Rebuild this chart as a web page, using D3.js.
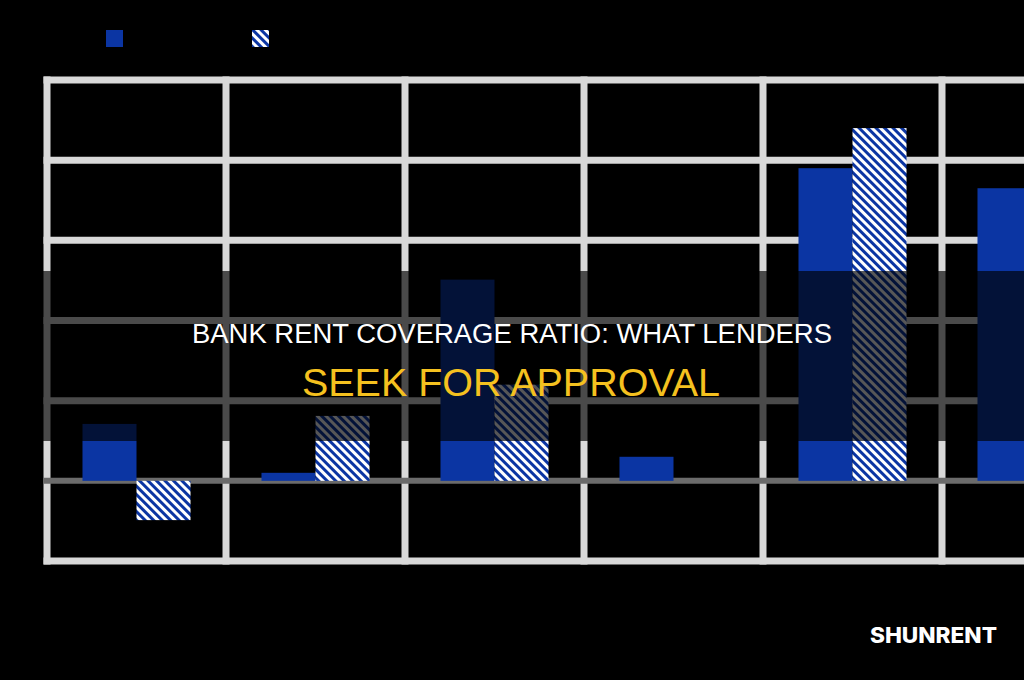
<!DOCTYPE html>
<html>
<head>
<meta charset="utf-8">
<script src="https://cdn.jsdelivr.net/npm/d3@7/dist/d3.min.js"></script>
<style>
  html, body { margin: 0; padding: 0; background: #000; }
  svg { display: block; }
</style>
</head>
<body>
<svg id="chart" width="1024" height="680"></svg>
<script>
// ---- data ----
const categories = ["A", "B", "C", "D", "E", "F"];
const seriesNames = ["Rent Coverage", "Lender Threshold"];
const seriesSolid = [0.71, 0.10, 2.51, 0.30, 3.90, 3.65];
const seriesHatched = [-0.49, 0.81, 1.20, 0.00, 4.40, 4.00];
const yTicks = [-1, 0, 1, 2, 3, 4, 5];
const titleLine1 = "BANK RENT COVERAGE RATIO: WHAT LENDERS";
const titleLine2 = "SEEK FOR APPROVAL";
const watermark = "SHUNRENT";

const BLUE = "#0b35a3";
const GRID = "#d9d9d9";
const ZERO = "#6b6b6b";

const svg = d3.select("#chart");
const W = 1024, H = 680;
svg.append("rect").attr("width", W).attr("height", H).attr("fill", "#000");

const defs = svg.append("defs");
const pat = defs.append("pattern")
  .attr("id", "hatch")
  .attr("patternUnits", "userSpaceOnUse")
  .attr("width", 6).attr("height", 6)
  .attr("patternTransform", "rotate(-45)");
pat.append("rect").attr("width", 6).attr("height", 6).attr("fill", "#ffffff");
pat.append("rect").attr("width", 3).attr("height", 6).attr("fill", BLUE);

const left = 47, step = 179;
const x = d3.scaleBand().domain(categories)
  .range([left, left + step * categories.length]).paddingInner(0).paddingOuter(0);
const x1 = d3.scaleBand().domain(seriesNames)
  .range([0, x.bandwidth()]).paddingInner(0).paddingOuter(0.657);
const y = d3.scaleLinear().domain([-1, 5]).range([561, 80]);

const g = svg.append("g");

// vertical grid lines at band edges
const edges = categories.map(c => x(c)).concat([x.range()[1]]);
g.selectAll("line.v").data(edges).join("line")
  .attr("x1", d => d).attr("x2", d => d)
  .attr("y1", y(5) - 3.5).attr("y2", y(-1) + 3.5)
  .attr("stroke", GRID).attr("stroke-width", 7);

// horizontal grid lines
g.selectAll("line.h").data(yTicks.filter(t => t !== 0)).join("line")
  .attr("x1", left - 3.5).attr("x2", x.range()[1] + 3.5)
  .attr("y1", d => y(d)).attr("y2", d => y(d))
  .attr("stroke", GRID).attr("stroke-width", 7);

// zero line
g.append("line")
  .attr("x1", left - 3.5).attr("x2", x.range()[1] + 3.5)
  .attr("y1", y(0)).attr("y2", y(0))
  .attr("stroke", ZERO).attr("stroke-width", 6);

// bars
const rows = categories.map((c, i) => ({ c, vals: [seriesSolid[i], seriesHatched[i]] }));
const grp = g.selectAll("g.grp").data(rows).join("g")
  .attr("transform", d => `translate(${x(d.c)},0)`);
grp.selectAll("rect").data(d => d.vals.map((v, j) => ({ v, s: seriesNames[j], j })))
  .join("rect")
  .attr("x", d => x1(d.s))
  .attr("width", x1.bandwidth())
  .attr("y", d => y(Math.max(0, d.v)))
  .attr("height", d => Math.abs(y(d.v) - y(0)))
  .attr("fill", d => d.j === 0 ? BLUE : "url(#hatch)");

// legend swatches
const legend = svg.append("g");
const legX = [106, 252];
seriesNames.forEach((s, j) => {
  legend.append("rect")
    .attr("x", legX[j]).attr("y", 30).attr("width", 17).attr("height", 17)
    .attr("fill", j === 0 ? BLUE : "url(#hatch)");
  legend.append("text")
    .attr("x", legX[j] + 24).attr("y", 44)
    .attr("fill", "#000").attr("font-family", "Liberation Sans, Arial, sans-serif")
    .attr("font-size", 14).text(s);
});

// overlay band
svg.append("rect")
  .attr("x", 0).attr("y", 271).attr("width", W).attr("height", 170)
  .attr("fill", "#000").attr("opacity", 0.66);

// title
svg.append("text")
  .attr("x", 512).attr("y", 343).attr("text-anchor", "middle")
  .attr("fill", "#ffffff")
  .attr("font-family", "Liberation Sans, Arial, sans-serif")
  .attr("font-size", 27)
  .attr("textLength", 640).attr("lengthAdjust", "spacingAndGlyphs")
  .text(titleLine1);
svg.append("text")
  .attr("x", 511).attr("y", 396).attr("text-anchor", "middle")
  .attr("fill", "#f5c11f")
  .attr("font-family", "Liberation Sans, Arial, sans-serif")
  .attr("font-size", 39)
  .attr("textLength", 418).attr("lengthAdjust", "spacingAndGlyphs")
  .text(titleLine2);

// watermark
svg.append("text")
  .attr("x", 870).attr("y", 643)
  .attr("fill", "#ffffff")
  .attr("font-family", "Inter, 'Open Sans', sans-serif")
  .attr("font-weight", 800)
  .attr("font-size", 21)
  .attr("textLength", 127).attr("lengthAdjust", "spacingAndGlyphs")
  .text(watermark);
</script>
</body>
</html>
